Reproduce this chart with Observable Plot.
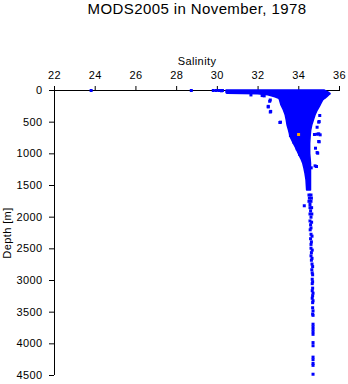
<!DOCTYPE html>
<html>
<head>
<meta charset="utf-8">
<script src="https://cdn.jsdelivr.net/npm/d3@7"></script>
<script src="https://cdn.jsdelivr.net/npm/@observablehq/plot@0.6"></script>
<style>
  body { margin: 0; background: #fff; }
  #chart svg text { letter-spacing: 0.4px; }
</style>
</head>
<body>
<div id="chart"></div>
<script>
const title = "MODS2005 in November, 1978";
const xLabel = "Salinity";
const yLabel = "Depth [m]";
const xTicks = [22, 24, 26, 28, 30, 32, 34, 36];
const yTicks = [0, 500, 1000, 1500, 2000, 2500, 3000, 3500, 4000, 4500];

// Dense core of the cloud: salinity range observed at each depth
const coreDepth  = [0,     40,    52,    60,    75,    106,   131,   158,   237,   316,   395,   474,   553,   632,   737,   842,   921,   1000,  1079,  1158,  1237,  1316,  1421,  1579];
const coreSalMin = [30.45, 30.45, 30.5,  32.0,  32.5,  32.85, 33.04, 33.08, 33.15, 33.27, 33.36, 33.41, 33.45, 33.52, 33.6,  33.76, 33.89, 34.0,  34.12, 34.22, 34.28, 34.33, 34.38, 34.41];
const coreSalMax = [35.26, 35.5,  35.56, 35.56, 35.5,  35.4,  35.3,  35.2,  35.07, 34.93, 34.82, 34.74, 34.66, 34.61, 34.58, 34.56, 34.56, 34.56, 34.58, 34.6,  34.6,  34.6,  34.6,  34.6];

// Individual casts outside the core
const dotDepth = [0, 0, 0, 0, 0, 0, 5,
  70, 80, 85, 150, 170, 250, 260, 330, 340,
  500, 505, 710, 816, 900, 921, 1000, 1011,
  395, 490, 500, 580, 684, 690, 695, 700, 805, 810, 911, 980, 990, 1190, 1200, 1221,
  1650, 1650, 1700, 1700, 1750, 1750, 1800, 1820, 1850, 1850, 1900, 1950, 1950, 2000,
  2060, 2080, 2120, 2170, 2200, 2270, 2300, 2340, 2390, 2430, 2490, 2520, 2560, 2610,
  2650, 2680, 2740, 2780, 2830, 2880, 2910, 2980, 3020, 3050, 3120, 3160, 3200, 3240,
  3280, 3320, 3350, 3430, 3480, 3530, 3550, 3690, 3730, 3770, 3810, 3850, 3980, 4030,
  4210, 4250, 4310, 4340, 4480];
const dotSal = [23.8, 28.72, 29.8, 29.95, 30.1, 30.25, 30.2,
  31.65, 32.2, 32.3, 32.6, 32.57, 32.5, 32.5, 32.62, 32.6,
  33.1, 33.07, 33.59, 33.76, 33.92, 33.92, 34.06, 34.05,
  35.03, 35.0, 34.98, 34.9, 34.98, 34.9, 34.77, 35.05, 34.98, 35.0, 34.82, 34.9, 34.93, 34.8, 34.87, 34.61,
  34.5, 34.6, 34.52, 34.62, 34.5, 34.6, 34.55, 34.27, 34.55, 34.63, 34.58, 34.55, 34.64, 34.6,
  34.55, 34.63, 34.58, 34.6, 34.56, 34.6, 34.65, 34.58, 34.62, 34.6, 34.6, 34.66, 34.62, 34.6,
  34.65, 34.62, 34.65, 34.68, 34.64, 34.66, 34.68, 34.66, 34.68, 34.66, 34.68, 34.66, 34.7, 34.68,
  34.66, 34.7, 34.68, 34.68, 34.7, 34.68, 34.7, 34.7, 34.7, 34.7, 34.7, 34.7, 34.7, 34.7,
  34.7, 34.7, 34.7, 34.7, 34.7];

// Highlighted observation (orange)
const hiDepth = [695];
const hiSal = [33.99];

const core = coreDepth.map((d, i) => ({d, lo: coreSalMin[i], hi: coreSalMax[i]}));
const dots = dotDepth.map((d, i) => ({d, s: dotSal[i]}));
const hi = hiDepth.map((d, i) => ({d, s: hiSal[i]}));

const blue = "#0000ff";

const chart = Plot.plot({
  width: 348,
  height: 384,
  marginTop: 90,
  marginLeft: 54,
  marginRight: 9,
  marginBottom: 9,
  style: {fontFamily: "'Liberation Sans', Arial, Helvetica, sans-serif", fontSize: "11px", background: "#fff", color: "#000", overflow: "visible"},
  x: {domain: [22, 36]},
  y: {domain: [0, 4500], reverse: true},
  marks: [
    Plot.ruleY([0], {stroke: "#000", strokeWidth: 1}),
    Plot.ruleX([22], {stroke: "#000", strokeWidth: 1}),
    Plot.axisX({anchor: "top", ticks: xTicks, tickSize: 5, tickPadding: 7, tickFormat: d => String(d),
      label: xLabel, labelAnchor: "center", labelOffset: 33, labelArrow: "none", stroke: "#000"}),
    Plot.axisY({anchor: "left", ticks: yTicks, tickSize: 5, tickPadding: 7, tickFormat: d => String(d),
      label: yLabel, labelAnchor: "center", labelOffset: 51, labelArrow: "none", stroke: "#000"}),
    Plot.areaX(core, {y: "d", x1: "lo", x2: "hi", fill: blue, stroke: blue, strokeWidth: 1.5}),
    Plot.dot(dots, {x: "s", y: "d", symbol: "square", r: 1.7, fill: blue}),
    Plot.dot(hi, {x: "s", y: "d", symbol: "square", r: 1.7, fill: "#ffa500"}),
    Plot.text([title], {frameAnchor: "top", dy: -76.5, lineAnchor: "bottom", fontSize: 15, fill: "#000"})
  ]
});
document.getElementById("chart").appendChild(chart);
</script>
</body>
</html>
